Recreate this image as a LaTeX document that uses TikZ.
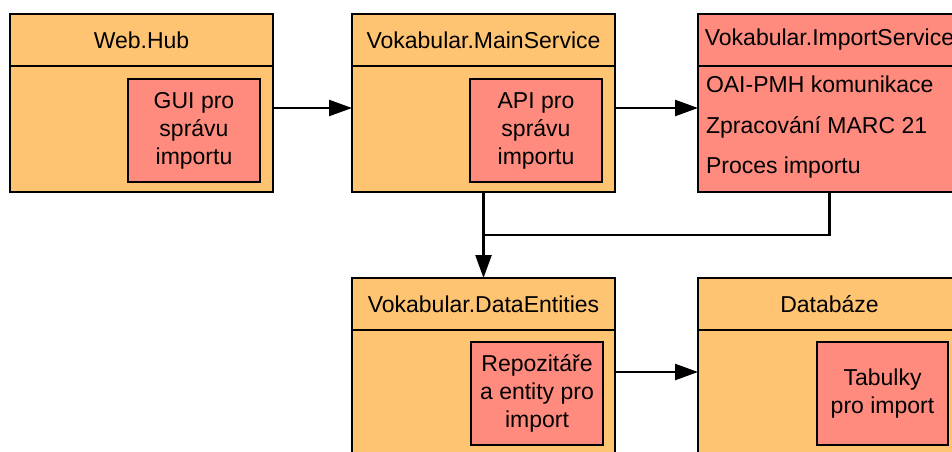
\documentclass[tikz,border=0pt]{standalone}
\usepackage{fontspec}
\setmainfont{Liberation Sans}
\usetikzlibrary{arrows.meta,calc}
\definecolor{boxorange}{RGB}{255,196,114}
\definecolor{boxsalmon}{RGB}{255,139,126}
\tikzset{
  every node/.style={font=\fontsize{23}{28}\selectfont, inner sep=0pt, outer sep=0pt},
  outerbox/.style={draw=black, line width=2.4pt, fill=boxorange, rectangle,
    anchor=north west, minimum width=263pt},
  headbox/.style={draw=black, line width=2.4pt, fill=boxorange, rectangle,
    anchor=north, minimum width=263pt, minimum height=52pt},
  innerbox/.style={draw=black, line width=2.4pt, fill=boxsalmon, rectangle,
    anchor=north west, minimum width=132pt, minimum height=103pt, align=center},
  conn/.style={draw=black, line width=2.4pt},
  arr/.style={conn, -{Triangle[length=23pt,width=16pt]}},
  itemtext/.style={anchor=west}
}
\begin{document}
\begin{tikzpicture}[x=1pt,y=-1pt]
\useasboundingbox (0,0) rectangle (952,451);
\clip (0,0) rectangle (952,451);
\fill[white] (0,0) rectangle (952,451);

% Web.Hub
\node[outerbox, minimum height=178pt] (hub) at (10,14) {};
\node[headbox] (hubH) at (hub.north) {Web.Hub};
\node[innerbox] (gui) at (128,79) {GUI pro\\správu\\importu};

% Vokabular.MainService
\node[outerbox, minimum height=178pt] (main) at (352,14) {};
\node[headbox] (mainH) at (main.north) {Vokabular.MainService};
\node[innerbox] (api) at (470,79) {API pro\\správu\\importu};

% Vokabular.ImportService
\node[outerbox, fill=boxsalmon, minimum height=178pt] (imp) at (698,14) {};
\node[headbox, fill=boxsalmon] (impH) at (imp.north) {Vokabular.ImportService};
\node[itemtext] (oai) at (706,84) {OAI-PMH komunikace};
\node[itemtext] (marc) at (706,127) {Zpracování MARC 21};
\node[itemtext] (proc) at (706,168) {Proces importu};

% Vokabular.DataEntities
\node[outerbox, minimum height=200pt] (ent) at (352,278) {};
\node[headbox] (entH) at (ent.north) {Vokabular.DataEntities};
\node[innerbox] (repo) at (471,342) {Repozitáře\\a entity pro\\import};

% Databáze
\node[outerbox, minimum height=200pt] (db) at (698,278) {};
\node[headbox] (dbH) at (db.north) {Databáze};
\node[innerbox, minimum width=131pt] (tab) at (817,342) {Tabulky\\pro import};

% connectors
\draw[arr] (hub.east |- 0,108) -- (main.west |- 0,108);
\draw[arr] (main.east |- 0,108) -- (imp.west |- 0,108);
\draw[conn] (imp.south) |- (main.south |- 0,235);
\draw[arr] (main.south) -- (ent.north);
\draw[arr] (ent.east |- 0,372) -- (db.west |- 0,372);
\end{tikzpicture}
\end{document}
